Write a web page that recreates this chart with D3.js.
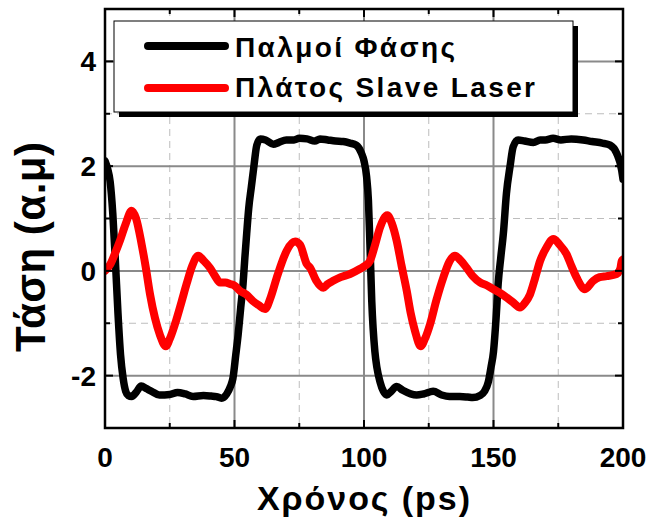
<!DOCTYPE html>
<html>
<head>
<meta charset="utf-8">
<script src="https://cdn.jsdelivr.net/npm/d3@7/dist/d3.min.js"></script>
<style>
  html, body { margin: 0; padding: 0; background: #fff; }
  svg { display: block; }
  text { font-family: "Liberation Sans", Arial, sans-serif; font-weight: bold; fill: #000; }
</style>
</head>
<body>
<div id="chart"></div>
<script>
// ---- Data ----
const seriesNames = ["Παλμοί Φάσης", "Πλάτος Slave Laser"];
const seriesColors = ["#000000", "#ff0000"];

const phaseT = [0,1,2,3,4,5,6,7,8,9,10.3,12,14,16,18,21,25,28,31,34,38,41,43,45,47,48.5,49.4,50.5,51.4,52.4,53.3,54,54.7,55.5,56.5,57.5,58.6,60,62,65,67,70,73,75,78,81,83,86,89,92,94.6,97,99,100,101,101.7,102.3,103,104.2,105,106.2,107.5,108.8,110.5,112.6,115,118,120.3,123,126.7,130,133,137,140,142,144.8,146.5,148,149,150,151,151.8,152.8,153.8,155,156.4,157.6,159.5,162,165.4,168,170,173,176,180,184.6,188,192,195,197.5,199.5,200];
const phaseV = [2.1,1.95,1.7,1.1,0.2,-0.8,-1.6,-2.05,-2.3,-2.38,-2.4,-2.32,-2.2,-2.25,-2.3,-2.37,-2.36,-2.32,-2.35,-2.4,-2.38,-2.39,-2.4,-2.43,-2.35,-2.2,-2.05,-1.6,-1.22,-0.7,-0.25,0.25,0.71,1.2,1.6,2.0,2.4,2.52,2.5,2.42,2.45,2.5,2.5,2.53,2.52,2.48,2.52,2.5,2.48,2.47,2.44,2.4,2.25,2.1,1.8,1.35,0.5,-0.58,-1.54,-1.85,-2.12,-2.3,-2.37,-2.3,-2.21,-2.28,-2.35,-2.37,-2.35,-2.3,-2.37,-2.4,-2.4,-2.41,-2.42,-2.38,-2.3,-2.12,-1.85,-1.54,-0.9,-0.25,0.25,0.71,1.48,2.0,2.37,2.5,2.48,2.45,2.5,2.5,2.53,2.5,2.52,2.5,2.47,2.44,2.4,2.25,1.92,1.75];

const ampT = [0,2,4,5.8,8,10.3,12,14.1,15.8,17.4,19.3,21.2,23.5,25,27,29.5,31.5,33.7,36,38,40.5,42.5,44.4,46.5,48.3,50,52.1,54.5,57.2,59.5,61.8,64,66.3,68.2,70.1,73.4,75.3,77.9,79.2,81.5,84.3,86,88.1,91,94.6,98.5,100.5,102.3,104.3,106.2,109,110.8,112.6,114.5,116.5,118,119.7,121.9,123.5,125.5,128,130.6,133,135.1,137.3,139.6,142,144.8,147.5,150,152.5,155.1,157.5,160.2,162,164.1,166,168,170.5,173.1,175.5,178.2,180.2,182.1,185.3,188.5,191,193.7,197.5,199,199.5,200];
const ampV = [0,0.12,0.35,0.58,0.9,1.15,1.0,0.52,0.05,-0.45,-0.9,-1.22,-1.44,-1.3,-1.02,-0.6,-0.25,0.1,0.29,0.2,0.06,-0.1,-0.22,-0.22,-0.25,-0.28,-0.38,-0.45,-0.58,-0.66,-0.73,-0.5,-0.13,0.15,0.38,0.56,0.5,0.13,0.06,-0.18,-0.32,-0.25,-0.19,-0.12,-0.06,0.04,0.1,0.19,0.5,0.83,1.06,0.9,0.58,0.1,-0.38,-0.8,-1.15,-1.44,-1.3,-1.02,-0.55,-0.13,0.18,0.29,0.2,0.06,-0.1,-0.22,-0.28,-0.35,-0.42,-0.51,-0.6,-0.7,-0.62,-0.45,-0.15,0.19,0.45,0.61,0.5,0.32,0.08,-0.13,-0.35,-0.19,-0.12,-0.1,-0.06,0.05,0.19,0.22];

const xMajorTicks = [0,50,100,150,200];
const xMinorTicks = [25,75,125,175];
const yMajorTicks = [-2,0,2,4];
const yMinorTicks = [-3,-1,1,3,5];
const xTitle = "Χρόνος (ps)";
const yTitle = "Τάση (α.μ)";

// ---- Layout ----
const W = 649, H = 523;
const L = 105, R = 623, T = 9, B = 428;

const svg = d3.select("#chart").append("svg").attr("width", W).attr("height", H);

const x = d3.scaleLinear().domain([0, 200]).range([L, R]);
const y = d3.scaleLinear().domain([-3, 5]).range([B, T]);

// grid
const grid = svg.append("g");
grid.selectAll(".gxmin").data(xMinorTicks).join("line")
  .attr("x1", d => x(d)).attr("x2", d => x(d)).attr("y1", T).attr("y2", B)
  .attr("stroke", "#bdbdbd").attr("stroke-width", 1).attr("stroke-dasharray", "7,5");
grid.selectAll(".gymin").data(yMinorTicks.filter(d => d > -3 && d < 5)).join("line")
  .attr("y1", d => y(d)).attr("y2", d => y(d)).attr("x1", L).attr("x2", R)
  .attr("stroke", "#bdbdbd").attr("stroke-width", 1).attr("stroke-dasharray", "7,5");
grid.selectAll(".gxmaj").data(xMajorTicks.filter(d => d > 0 && d < 200)).join("line")
  .attr("x1", d => x(d)).attr("x2", d => x(d)).attr("y1", T).attr("y2", B)
  .attr("stroke", "#8a8a8a").attr("stroke-width", 2);
grid.selectAll(".gymaj").data(yMajorTicks).join("line")
  .attr("y1", d => y(d)).attr("y2", d => y(d)).attr("x1", L).attr("x2", R)
  .attr("stroke", "#8a8a8a").attr("stroke-width", 2);

// data lines
const clip = svg.append("clipPath").attr("id", "clip").append("rect")
  .attr("x", L).attr("y", T).attr("width", R - L).attr("height", B - T);
const line = d3.line().x(d => x(d[0])).y(d => y(d[1])).curve(d3.curveMonotoneX);
const phaseData = phaseT.map((t, i) => [t, phaseV[i]]);
const ampData = ampT.map((t, i) => [t, ampV[i]]);
const plot = svg.append("g").attr("clip-path", "url(#clip)");
plot.append("path").datum(phaseData).attr("d", line).attr("fill", "none")
  .attr("stroke", seriesColors[0]).attr("stroke-width", 7.5).attr("stroke-linejoin", "round").attr("stroke-linecap", "round");
plot.append("path").datum(ampData).attr("d", line).attr("fill", "none")
  .attr("stroke", seriesColors[1]).attr("stroke-width", 8).attr("stroke-linejoin", "round").attr("stroke-linecap", "round");

// axes (ticks inward)
const axes = svg.append("g");
function ticksX(vals, len, yPos, dir) {
  axes.selectAll(null).data(vals).join("line")
    .attr("x1", d => x(d)).attr("x2", d => x(d))
    .attr("y1", yPos).attr("y2", yPos + dir * len)
    .attr("stroke", "#000").attr("stroke-width", 2);
}
function ticksY(vals, len, xPos, dir) {
  axes.selectAll(null).data(vals).join("line")
    .attr("y1", d => y(d)).attr("y2", d => y(d))
    .attr("x1", xPos).attr("x2", xPos + dir * len)
    .attr("stroke", "#000").attr("stroke-width", 2);
}
ticksX(xMajorTicks, 8, B, -1); ticksX(xMinorTicks, 5, B, -1);
ticksX(xMajorTicks, 8, T, 1);  ticksX(xMinorTicks, 5, T, 1);
ticksY(yMajorTicks, 8, L, 1);  ticksY(yMinorTicks, 5, L, 1);
ticksY(yMajorTicks, 8, R, -1); ticksY(yMinorTicks, 5, R, -1);

axes.append("rect").attr("x", L).attr("y", T).attr("width", R - L).attr("height", B - T)
  .attr("fill", "none").attr("stroke", "#000").attr("stroke-width", 2.5);

// tick labels
svg.append("g").selectAll("text").data(xMajorTicks).join("text")
  .attr("x", d => x(d)).attr("y", 467).attr("text-anchor", "middle")
  .attr("font-size", 28).text(d => d);
svg.append("g").selectAll("text").data(yMajorTicks).join("text")
  .attr("x", 96).attr("y", d => y(d) + 10).attr("text-anchor", "end")
  .attr("font-size", 28).text(d => d);

// axis titles
svg.append("text").attr("x", 257).attr("y", 510).attr("font-size", 34)
  .attr("textLength", 213).attr("lengthAdjust", "spacing").text(xTitle);
svg.append("text").attr("transform", "translate(45,352) rotate(-90)")
  .attr("font-size", 42).attr("textLength", 210).attr("lengthAdjust", "spacing").text(yTitle);

// legend
const lg = svg.append("g");
lg.append("rect").attr("x", 119).attr("y", 26).attr("width", 459).attr("height", 91).attr("fill", "#000");
lg.append("rect").attr("x", 114).attr("y", 21).attr("width", 459).attr("height", 91)
  .attr("fill", "#fff").attr("stroke", "#000").attr("stroke-width", 1);
const legendRows = [46, 88];
const legendTextY = [57, 97];
const legendLen = [220, 300];
seriesNames.forEach((name, i) => {
  lg.append("line").attr("x1", 148).attr("x2", 225).attr("y1", legendRows[i]).attr("y2", legendRows[i])
    .attr("stroke", seriesColors[i]).attr("stroke-width", 8).attr("stroke-linecap", "round");
  lg.append("text").attr("x", 235).attr("y", legendTextY[i]).attr("font-size", 28)
    .attr("textLength", legendLen[i]).attr("lengthAdjust", "spacing").text(name);
});
</script>
</body>
</html>
